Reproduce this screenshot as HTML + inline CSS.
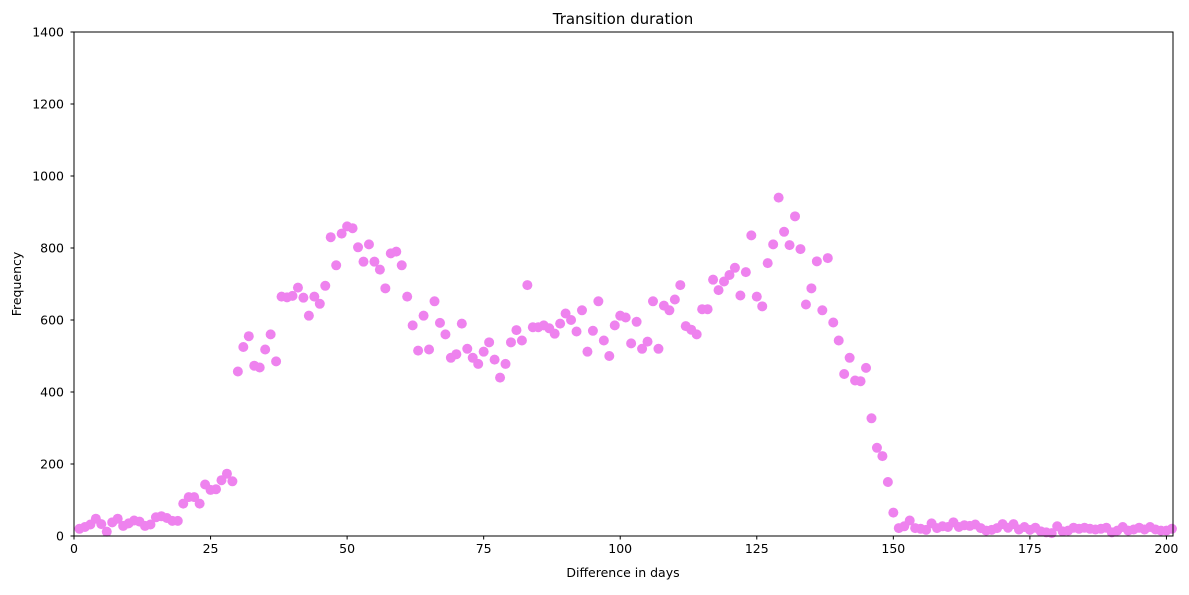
<!DOCTYPE html>
<html><head><meta charset="utf-8"><style>
body{margin:0;background:#fff}
text{font-family:"DejaVu Sans","Liberation Sans",sans-serif;fill:#000}
</style></head><body>
<svg id="chart" width="1189" height="590">
<rect width="1189" height="590" fill="#fff"/>
<text x="623" y="24" font-size="15" text-anchor="middle">Transition duration</text>
<g id="marks"></g>
<rect x="74" y="32" width="1099" height="504" fill="none" stroke="#000" stroke-width="1"/>
<g id="xaxis"></g>
<g id="yaxis"></g>
<text x="623" y="577" font-size="12.5" text-anchor="middle">Difference in days</text>
<text x="21" y="284" font-size="12.5" text-anchor="middle" transform="rotate(-90 21 284)">Frequency</text>
</svg>
<script>
const days = [];
for (let d = 1; d <= 201; d++) days.push(d);
const freq = [20,25,32,48,33,12,38,48,28,35,43,40,28,32,52,55,50,42,42,90,108,108,90,143,128,130,155,173,152,457,525,555,473,468,518,560,485,665,663,667,690,662,612,665,645,695,830,752,840,860,855,802,762,810,762,740,688,785,790,752,665,585,515,612,518,652,592,560,495,505,590,520,495,478,512,538,490,440,478,538,572,543,697,580,580,585,577,562,590,618,600,568,627,512,570,652,543,500,585,612,607,535,595,520,540,652,520,640,627,657,697,583,573,560,630,630,712,683,707,725,745,668,733,835,665,638,758,810,940,845,808,888,797,643,688,763,627,772,593,543,450,495,432,430,467,327,245,222,150,65,22,27,43,22,20,17,35,22,27,25,38,25,30,28,32,22,15,17,22,33,23,33,18,25,17,23,13,10,8,27,13,15,23,20,23,20,18,20,23,10,15,25,15,18,23,18,25,18,15,15,20];
const xTicks = [0,25,50,75,100,125,150,175,200];
const yTicks = [0,200,400,600,800,1000,1200,1400];
const X0=74, X1=1173, Y0=536, Y1=32, XMAX=201.2, YMAX=1400;
const xs = v => X0 + (v/XMAX)*(X1-X0);
const ys = v => Y0 - (v/YMAX)*(Y0-Y1);
const NS="http://www.w3.org/2000/svg";
const marks=document.getElementById('marks');
days.forEach((d,i)=>{
  const c=document.createElementNS(NS,'circle');
  c.setAttribute('cx',xs(d));c.setAttribute('cy',ys(freq[i]));c.setAttribute('r',5);c.setAttribute('fill','#ee82ee');
  
  
  marks.appendChild(c);
});
const xa=document.getElementById('xaxis');
xTicks.forEach(t=>{
  const l=document.createElementNS(NS,'line');
  l.setAttribute('x1',xs(t));l.setAttribute('x2',xs(t));l.setAttribute('y1',Y0);l.setAttribute('y2',Y0+3.5);l.setAttribute('stroke','#000');
  
  
  xa.appendChild(l);
  const tx=document.createElementNS(NS,'text');
  tx.setAttribute('x',xs(t));tx.setAttribute('y',Y0+17);tx.setAttribute('font-size','12.5');tx.setAttribute('text-anchor','middle');tx.textContent=t;
  
  
  xa.appendChild(tx);
});
const ya=document.getElementById('yaxis');
yTicks.forEach(t=>{
  const l=document.createElementNS(NS,'line');
  l.setAttribute('x1',X0-3.5);l.setAttribute('x2',X0);l.setAttribute('y1',ys(t));l.setAttribute('y2',ys(t));l.setAttribute('stroke','#000');
  
  
  ya.appendChild(l);
  const tx=document.createElementNS(NS,'text');
  tx.setAttribute('x',X0-10);tx.setAttribute('y',ys(t)+4.5);tx.setAttribute('font-size','12.5');tx.setAttribute('text-anchor','end');tx.textContent=t;
  
  
  ya.appendChild(tx);
});
</script>
</body></html>
